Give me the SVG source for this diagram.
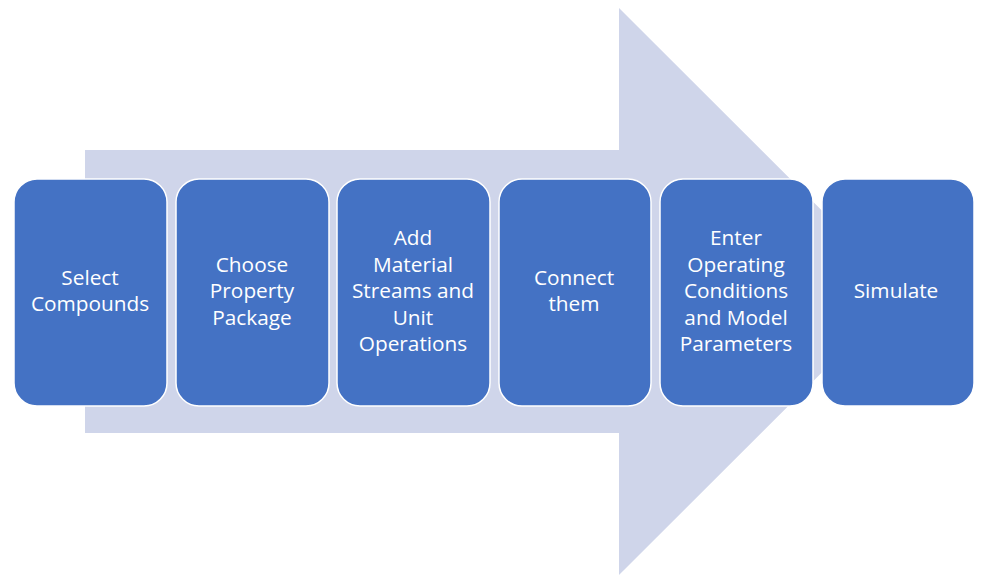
<svg xmlns="http://www.w3.org/2000/svg" width="1000" height="586" viewBox="0 0 1000 586">
<style>
.box{fill:#4472C4;stroke:#FFFFFF;stroke-width:1.5}
.lbl{fill:#FFFFFF;font-family:"Open Sans","Liberation Sans",sans-serif;font-size:20.8px;text-anchor:middle}
</style>
<rect width="1000" height="586" fill="#FFFFFF"/>
<g id="arrow">
<polygon points="85,150 619,150 619,8 903,291.5 619,575 619,433 85,433" fill="#CFD5EA"/>
</g>
<g id="connectors"></g>
<g id="n1"><rect class="box" x="14" y="179" width="153" height="227" rx="23"/>
<text class="lbl" x="90" y="285">Select</text><text class="lbl" x="90" y="311">Compounds</text></g>
<g id="n2"><rect class="box" x="176" y="179" width="153" height="227" rx="23"/>
<text class="lbl" x="252" y="272">Choose</text><text class="lbl" x="252" y="298">Property</text><text class="lbl" x="252" y="325">Package</text></g>
<g id="n3"><rect class="box" x="337" y="179" width="153" height="227" rx="23"/>
<text class="lbl" x="413" y="245">Add</text><text class="lbl" x="413" y="272">Material</text><text class="lbl" x="413" y="298">Streams and</text><text class="lbl" x="413" y="325">Unit</text><text class="lbl" x="413" y="351">Operations</text></g>
<g id="n4"><rect class="box" x="499" y="179" width="152" height="227" rx="23"/>
<text class="lbl" x="574" y="285">Connect</text><text class="lbl" x="574" y="311">them</text></g>
<g id="n5"><rect class="box" x="660" y="179" width="153" height="227" rx="23"/>
<text class="lbl" x="736" y="245">Enter</text><text class="lbl" x="736" y="272">Operating</text><text class="lbl" x="736" y="298">Conditions</text><text class="lbl" x="736" y="325">and Model</text><text class="lbl" x="736" y="351">Parameters</text></g>
<g id="n6"><rect class="box" x="822" y="179" width="152" height="227" rx="23"/>
<text class="lbl" x="896" y="298">Simulate</text></g>
</svg>
